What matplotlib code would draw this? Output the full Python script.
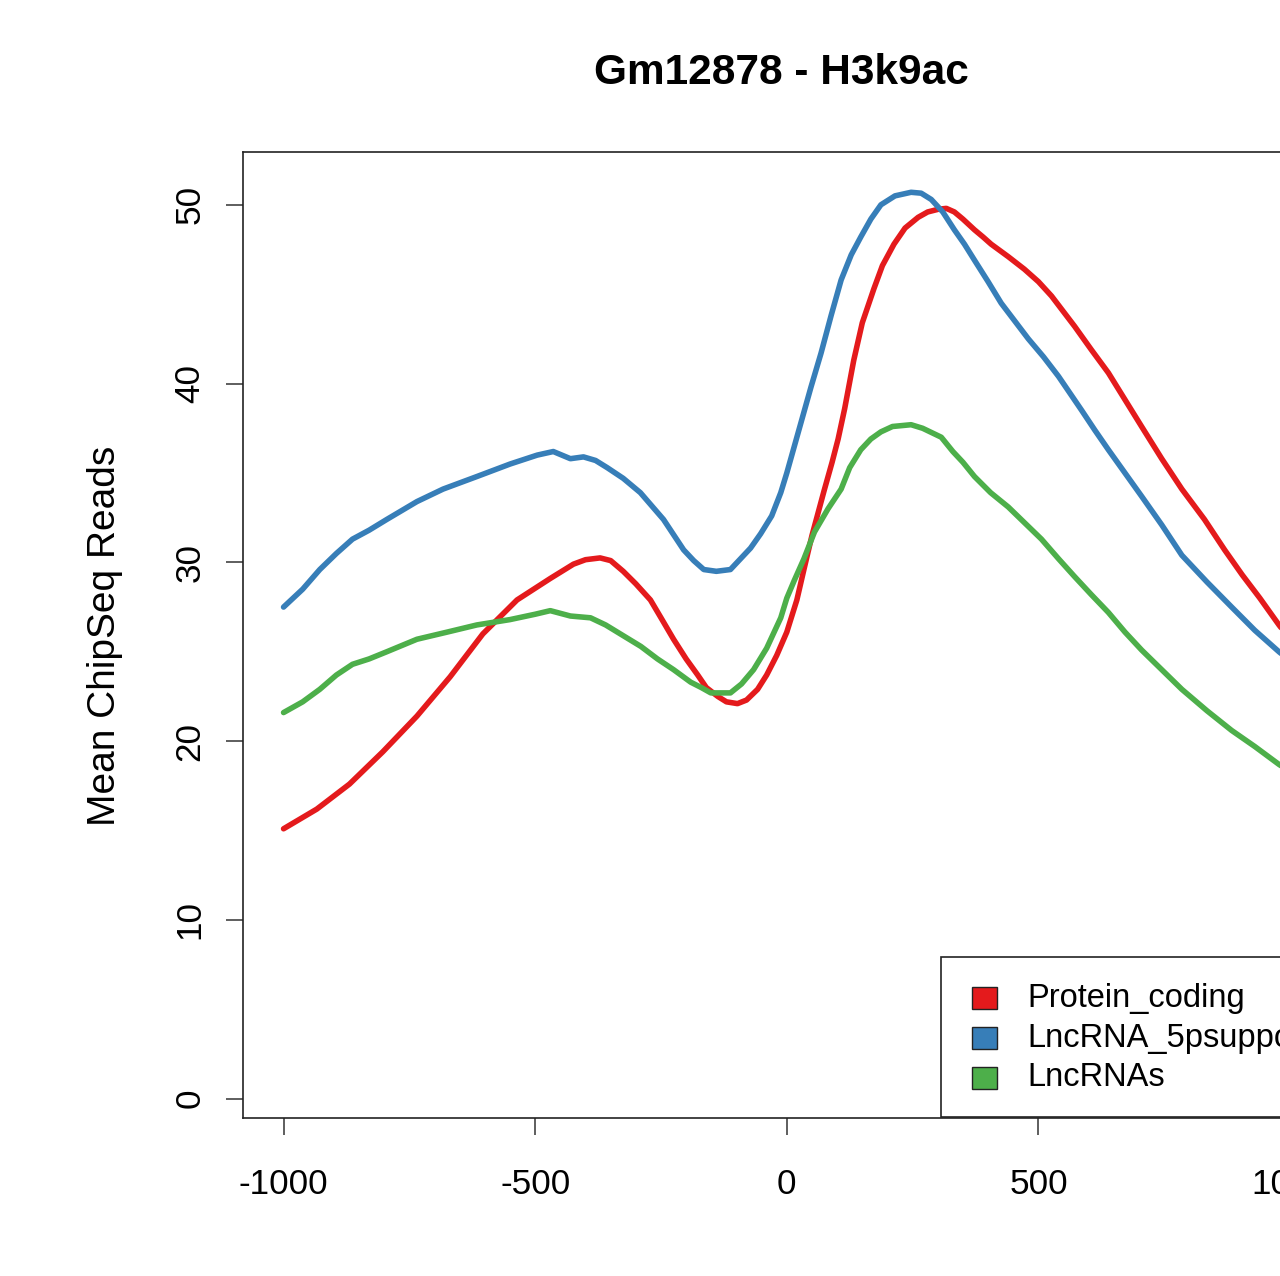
import matplotlib
matplotlib.use("Agg")
import matplotlib.pyplot as plt
from matplotlib.patches import Rectangle

plt.rcParams['font.family'] = ['Liberation Sans', 'DejaVu Sans']

title = "Gm12878 - H3k9ac"
ylabel = "Mean ChipSeq Reads"
series_names = ["Protein_coding", "LncRNA_5psupported", "LncRNAs"]
series_colors = ["#E41A1C", "#377EB8", "#4DAF4A"]

x_ticks = [-1000, -500, 0, 500, 1000]
y_ticks = [0, 10, 20, 30, 40, 50]

# Protein_coding
pc_x = [-1000, -934, -869, -803, -735, -669, -604, -536, -470, -424, -400, -371, -350, -325,
        -300, -271, -250, -225, -200, -177, -160, -137, -120, -98, -80, -58, -40, -20, 0,
        20, 34, 50, 74, 90, 102, 115, 133, 150, 173, 190, 213, 235,
        261, 280, 301, 317, 333, 350, 373, 390, 406, 440, 472, 500, 526, 572, 605, 639, 672,
        705, 745, 785, 830, 870, 905, 940, 978, 1000]
pc_y = [15.1, 16.2, 17.6, 19.4, 21.4, 23.6, 26.0, 27.9, 29.1, 29.9, 30.15, 30.25, 30.1, 29.5,
        28.8, 27.9, 26.9, 25.7, 24.6, 23.7, 23.0, 22.5, 22.2, 22.1, 22.3, 22.9, 23.7, 24.8, 26.1,
        27.9, 29.6, 31.5, 34.0, 35.6, 36.9, 38.6, 41.3, 43.4, 45.3, 46.6, 47.8, 48.7,
        49.3, 49.6, 49.75, 49.8, 49.6, 49.2, 48.6, 48.2, 47.8, 47.1, 46.4, 45.7, 44.9, 43.2, 41.9, 40.6, 39.1,
        37.6, 35.8, 34.1, 32.4, 30.7, 29.3, 28.0, 26.5, 25.7]

# LncRNA_5psupported
l5_x = [-1000, -962, -928, -895, -863, -830, -795, -735, -683, -616, -550, -496, -464, -430,
        -404, -380, -357, -325, -291, -245, -205, -185, -165, -140, -112, -92, -72, -52, -30, -12,
        0, 10, 28, 48, 68, 88, 108, 128, 147, 167,
        187, 215, 247, 267, 287, 310, 333, 353, 373, 400, 426, 453, 480, 510, 540, 586, 612, 639, 672,
        705, 745, 785, 835, 884, 930, 978, 1000]
l5_y = [27.5, 28.5, 29.6, 30.5, 31.3, 31.8, 32.4, 33.4, 34.1, 34.8, 35.5, 36.0, 36.2, 35.8,
        35.9, 35.7, 35.3, 34.7, 33.9, 32.4, 30.7, 30.1, 29.6, 29.5, 29.6, 30.2, 30.8, 31.6, 32.6, 33.9,
        35.0, 36.0, 37.8, 39.8, 41.7, 43.8, 45.8, 47.2, 48.2, 49.2,
        50.0, 50.5, 50.7, 50.65, 50.3, 49.6, 48.6, 47.8, 46.9, 45.7, 44.5, 43.5, 42.5, 41.5, 40.4, 38.5, 37.4, 36.3, 35.0,
        33.7, 32.1, 30.4, 28.9, 27.5, 26.2, 25.0, 24.5]

# LncRNAs
ln_x = [-1000, -962, -928, -895, -863, -830, -795, -735, -675, -616, -550, -500, -470, -430,
        -390, -360, -325, -290, -257, -225, -191, -170, -151, -130, -112, -90, -66, -40, -12, 0,
        15, 34, 55, 82, 108, 125, 147, 167, 187, 210, 247, 270, 307, 330, 350,
        373, 405, 440, 473, 506, 540, 572, 605, 639, 672, 705, 745, 785, 835, 884, 930, 978, 1000]
ln_y = [21.6, 22.2, 22.9, 23.7, 24.3, 24.6, 25.0, 25.7, 26.1, 26.5, 26.8, 27.1, 27.3, 27.0,
        26.9, 26.5, 25.9, 25.3, 24.6, 24.0, 23.3, 23.0, 22.7, 22.7, 22.7, 23.2, 24.0, 25.2, 26.9, 28.0,
        29.0, 30.2, 31.7, 33.0, 34.1, 35.3, 36.3, 36.9, 37.3, 37.6, 37.7, 37.5, 37.0, 36.2, 35.6,
        34.8, 33.9, 33.1, 32.2, 31.3, 30.2, 29.2, 28.2, 27.2, 26.1, 25.1, 24.0, 22.9, 21.7, 20.6, 19.7, 18.7, 18.3]

W, H = 1280, 1276
fig = plt.figure(figsize=(W / 100, H / 100), dpi=100)
ax = fig.add_axes([243.3 / W, 158.3 / H, 1087 / W, 966 / H])

for xs, ys, c in zip([pc_x, l5_x, ln_x], [pc_y, l5_y, ln_y], series_colors):
    ax.plot(xs, ys, color=c, lw=4.0, solid_joinstyle='round', solid_capstyle='round')

ax.set_xlim(-1080, 1080)
ax.set_ylim(-1.06, 52.97)
ax.set_xticks(x_ticks)
ax.set_xticklabels([str(v) for v in x_ticks])
ax.set_yticks(y_ticks)
ax.set_yticklabels([str(v) for v in y_ticks], rotation=90, va='center')
ax.tick_params(axis='both', direction='out', length=12.5, width=1.1, color='#333333',
               labelsize=25.3)
ax.tick_params(axis='x', pad=24)
ax.tick_params(axis='y', pad=14)
for s in ax.spines.values():
    s.set_linewidth(1.2)
    s.set_color('#222222')

fig.text(781 / W, 1 - 73 / H, title, ha='center', va='center', fontsize=30.5,
         fontweight='bold')
fig.text(105 / W, 1 - 636 / H, ylabel, ha='center', va='center', rotation=90,
         fontsize=28)

# legend drawn in figure pixel coordinates
def fx(px):
    return px / W

def fy(py):
    return 1 - py / H

fig.patches.append(Rectangle((fx(941), fy(1117)), fx(1400) - fx(941), fy(957) - fy(1117),
                             transform=fig.transFigure, facecolor='white',
                             edgecolor='#222222', lw=1.2, zorder=5))
rows = [998, 1038, 1078]
for name, col, ry in zip(series_names, series_colors, rows):
    fig.patches.append(Rectangle((fx(972), fy(ry + 11)), fx(997) - fx(972), fy(ry - 11) - fy(ry + 11),
                                 transform=fig.transFigure, facecolor=col,
                                 edgecolor='#222222', lw=1.0, zorder=6))
    fig.text(fx(1027), fy(ry), name, ha='left', va='center', fontsize=23.5, zorder=7)

fig.savefig("out.png", dpi=100)
